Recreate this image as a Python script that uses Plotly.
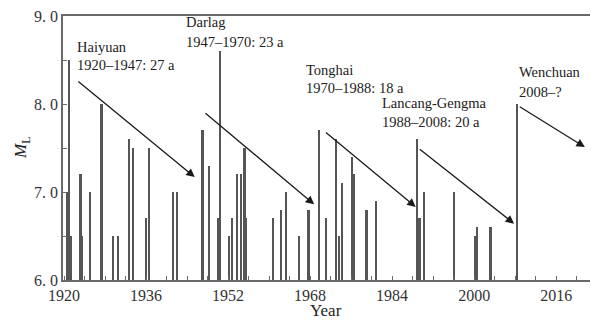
import plotly.graph_objects as go

# ---- data ----
quake_years = [1920.9, 1920.6, 1921.3, 1923.2, 1923.5, 1925.1, 1927.3, 1929.6, 1930.5,
               1932.7, 1933.5, 1936.0, 1936.6, 1941.3, 1942.1, 1947.0, 1948.3, 1950.1,
               1950.5, 1952.2, 1952.7, 1953.8, 1954.5, 1955.2, 1955.5, 1960.7, 1962.3,
               1963.3, 1965.9, 1967.7, 1969.8, 1971.1, 1973.1, 1973.7, 1974.2, 1976.2,
               1976.6, 1979.0, 1980.9, 1988.8, 1989.0, 1989.4, 1990.2, 1996.0, 2000.1,
               2000.5, 2003.2, 2008.3]
quake_mags = [8.5, 7.0, 6.5, 7.2, 6.5, 7.0, 8.0, 6.5, 6.5,
              7.6, 7.5, 6.7, 7.5, 7.0, 7.0, 7.7, 7.3, 6.7,
              8.6, 6.5, 6.7, 7.2, 7.2, 7.5, 6.7, 6.7, 6.8,
              7.0, 6.5, 6.8, 7.7, 6.7, 7.6, 6.5, 7.1, 7.4,
              7.2, 6.8, 6.9, 7.6, 6.7, 6.7, 7.0, 7.0, 6.5,
              6.6, 6.6, 8.0]

episode_names = ["Haiyuan", "Darlag", "Tonghai", "Lancang-Gengma", "Wenchuan"]
episode_periods = ["1920–1947: 27 a", "1947–1970: 23 a", "1970–1988: 18 a",
                   "1988–2008: 20 a", "2008–?"]
# arrow start (year, M) and end (year, M)
arrow_start_year = [1922.5, 1947.3, 1970.8, 1989.1, 2008.6]
arrow_start_mag = [8.27, 7.91, 7.69, 7.50, 7.98]
arrow_end_year = [1945.5, 1968.8, 1988.6, 2007.8, 2021.6]
arrow_end_mag = [7.17, 6.86, 6.83, 6.64, 7.51]
# label anchor (year, M of first line, M of second line)
label_year = [1922.4, 1943.6, 1967.0, 1981.8, 2008.6]
label_mag1 = [8.65, 8.93, 8.39, 8.01, 8.36]
label_mag2 = [8.44, 8.70, 8.18, 7.80, 8.14]

x_tick_vals = [1920, 1936, 1952, 1968, 1984, 2000, 2016]
y_tick_vals = [6, 7, 8, 9]
y_tick_text = ["6. 0", "7. 0", "8. 0", "9. 0"]

FONT = "Liberation Serif"
AXC = "#6a6a6a"

fig = go.Figure()
fig.add_trace(go.Bar(
    x=quake_years, y=[m - 6 for m in quake_mags], base=6,
    width=0.42, marker=dict(color="#555555", line=dict(width=0)),
    showlegend=False, hoverinfo="skip"))

annotations = []
for i in range(len(episode_names)):
    annotations.append(dict(
        x=arrow_end_year[i], y=arrow_end_mag[i], xref="x", yref="y",
        ax=arrow_start_year[i], ay=arrow_start_mag[i], axref="x", ayref="y",
        text="", showarrow=True, arrowhead=2, arrowsize=1.3, arrowwidth=1.3,
        arrowcolor="#1a1a1a", standoff=0, startstandoff=0))
    annotations.append(dict(
        x=label_year[i], y=label_mag1[i], xref="x", yref="y",
        text=episode_names[i], showarrow=False, xanchor="left", yanchor="middle",
        borderpad=0, font=dict(family=FONT, size=14.5, color="#222")))
    annotations.append(dict(
        x=label_year[i], y=label_mag2[i], xref="x", yref="y",
        text=episode_periods[i], showarrow=False, xanchor="left", yanchor="middle",
        borderpad=0, font=dict(family=FONT, size=14.5, color="#222")))

# axis titles as paper-anchored text (given in pixels, converted below)
W, H, L, R, T, B = 591, 327, 63, 1, 16, 47
pw, ph = W - L - R, H - T - B
title_specs = [("Year", 326, 310, 0), ("<i>M</i><sub>L</sub>", 22, 148, -90)]
for text, px, py, ang in title_specs:
    annotations.append(dict(x=(px - L) / pw, y=(H - B - py) / ph, xref="paper", yref="paper",
                            text=text, showarrow=False, xanchor="center", yanchor="middle",
                            textangle=ang, font=dict(family=FONT, size=17, color="#222")))

fig.update_layout(
    width=W, height=H,
    margin=dict(l=L, r=R, t=T, b=B, autoexpand=False),
    paper_bgcolor="white", plot_bgcolor="white",
    barmode="overlay", bargap=0,
    annotations=annotations,
    font=dict(family=FONT, size=16, color="#333"),
    xaxis=dict(
        range=[1919.8, 2022.6], tickvals=x_tick_vals, automargin=False,
        ticks="inside", ticklen=4, tickwidth=1.2, tickcolor=AXC,
        minor=dict(dtick=4, tick0=1920, ticks="inside", ticklen=4, tickwidth=1.2, tickcolor=AXC),
        showline=True, linecolor=AXC, linewidth=1.6, mirror=True,
        showgrid=False, zeroline=False,
        tickfont=dict(family=FONT, size=16, color="#333")),
    yaxis=dict(
        range=[6, 9], tickvals=y_tick_vals, ticktext=y_tick_text, automargin=False,
        ticks="inside", ticklen=4, tickwidth=1.2, tickcolor=AXC,
        minor=dict(dtick=0.5, tick0=6, ticks="inside", ticklen=4, tickwidth=1.2, tickcolor=AXC),
        showline=True, linecolor=AXC, linewidth=1.6,
        showgrid=False, zeroline=False,
        tickfont=dict(family=FONT, size=16, color="#333")),
)

fig.write_html("out.html", config={"displayModeBar": False},
               post_script="document.body.style.margin='0px';document.body.style.padding='0px';")
